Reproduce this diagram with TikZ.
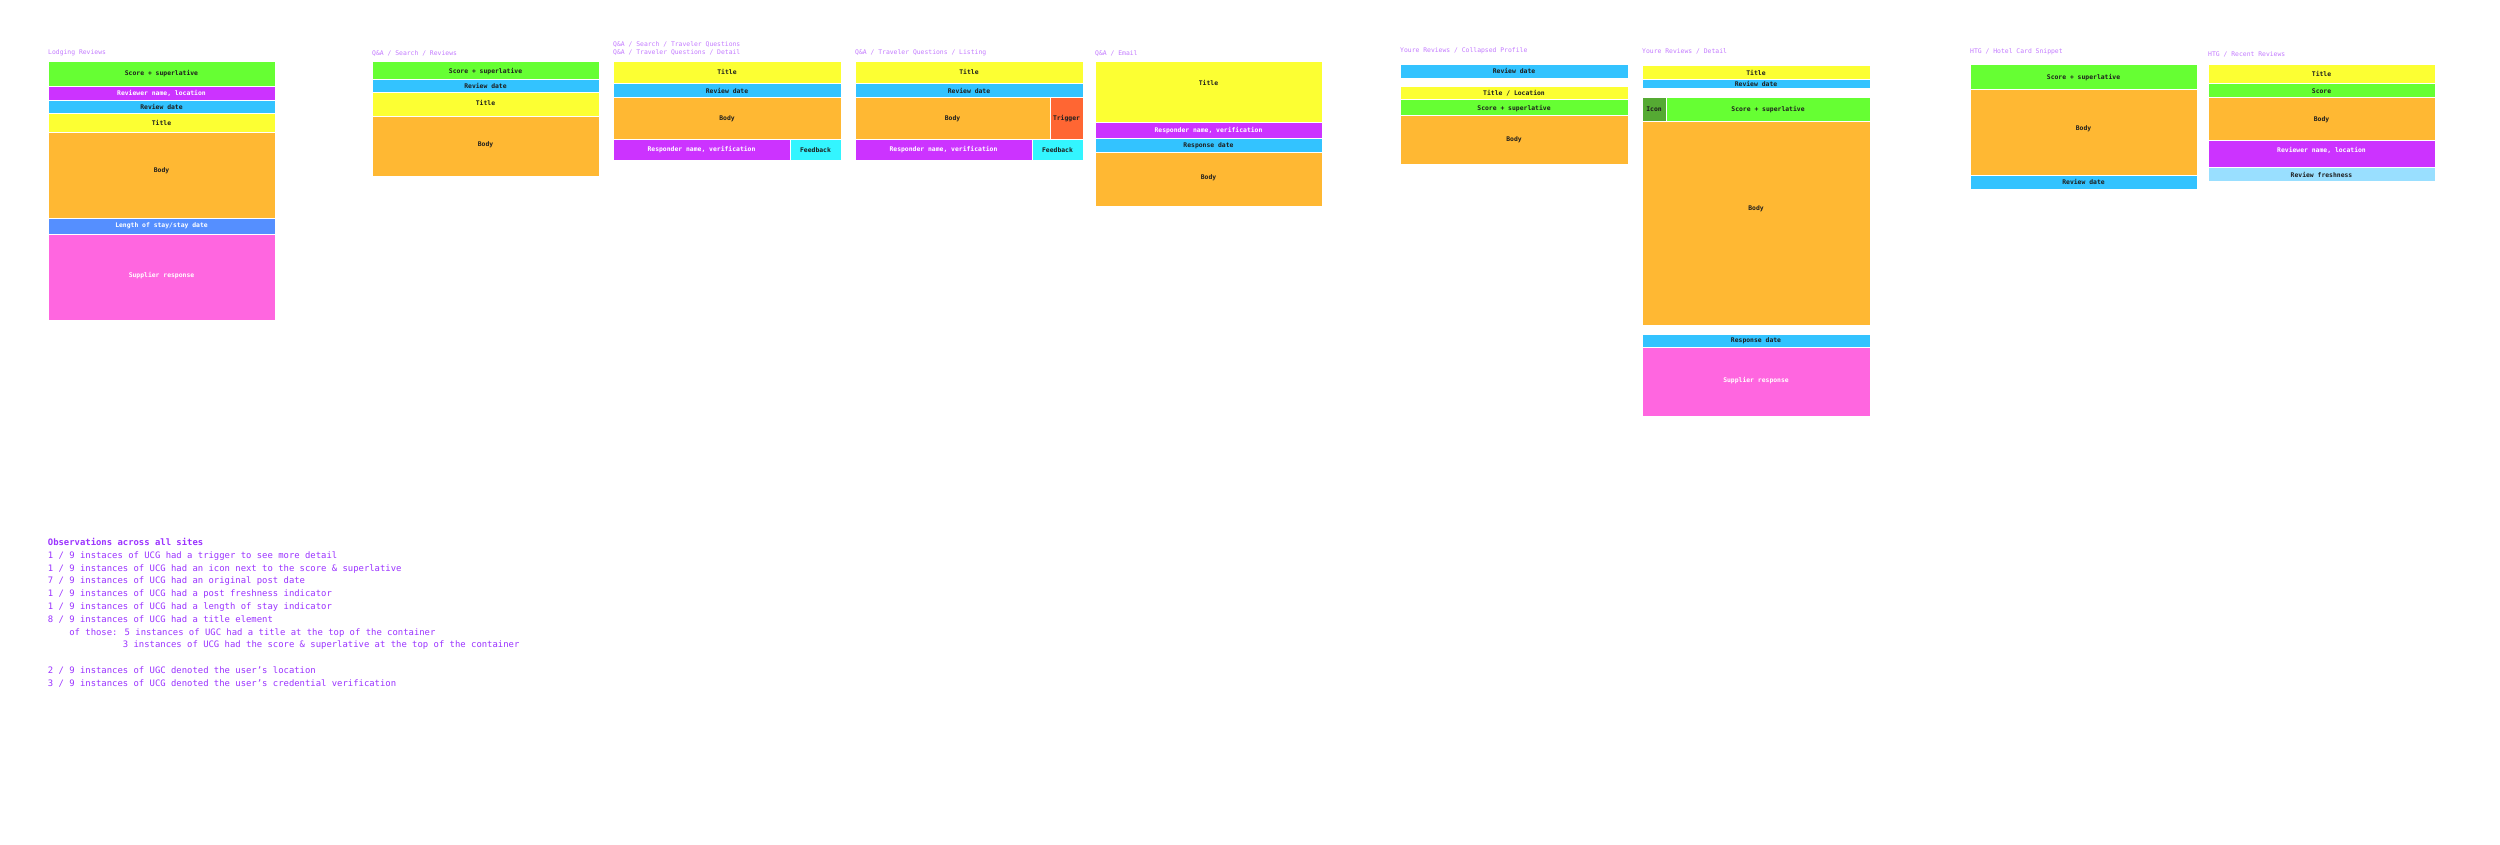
\documentclass[tikz,border=0pt]{standalone}
\usepackage{fontspec}
\setmainfont{DejaVu Sans Mono}
\setmonofont{DejaVu Sans Mono}
\definecolor{scoreG}{HTML}{66FF33}
\definecolor{purpC}{HTML}{CC33FF}
\definecolor{dateB}{HTML}{33C3FF}
\definecolor{titleY}{HTML}{FCFF33}
\definecolor{bodyO}{HTML}{FFB833}
\definecolor{stayB}{HTML}{558FFF}
\definecolor{pinkS}{HTML}{FF66E0}
\definecolor{trigR}{HTML}{FF6633}
\definecolor{feedC}{HTML}{33F5FF}
\definecolor{iconG}{HTML}{55AA33}
\definecolor{freshB}{HTML}{99DFFF}
\definecolor{labelP}{HTML}{C47BFF}
\definecolor{obsP}{HTML}{9B33FF}
\definecolor{darkT}{HTML}{1E1E1E}
\newcommand{\seg}[9]{%
  \path[segfill, fill=#5] (#1,#2) rectangle (#3,#4);
  \node[lbl, text=#8] (#6) at ({(#1+#3)/2},#7) {#9};}
\begin{document}
\begin{tikzpicture}[x=1pt,y=-1pt,
  segfill/.style={draw=white, line width=0.5pt},
  lbl/.style={font=\fontsize{6.4}{7.7}\selectfont\bfseries, inner sep=0pt},
  ttl/.style={font=\fontsize{6.4}{7.7}\selectfont, text=labelP, anchor=west, inner sep=0pt}]
\useasboundingbox[fill=white] (0,0) rectangle (2500,845);

% Lodging Reviews
\node[ttl] (t1) at (48,53) {Lodging Reviews};
\seg{48}{61.7}{275}{86.3}{scoreG}{a1}{74}{darkT}{Score + superlative}
\seg{48}{86.3}{275}{100}{purpC}{a2}{93.3}{white}{Reviewer name, location}
\seg{48}{100}{275}{113.3}{dateB}{a3}{106.7}{darkT}{Review date}
\seg{48}{113.3}{275}{132}{titleY}{a4}{123.3}{darkT}{Title}
\seg{48}{132}{275}{218}{bodyO}{a5}{170.7}{darkT}{Body}
\seg{48}{218}{275}{234.7}{stayB}{a6}{225.3}{white}{Length of stay/stay date}
\seg{48}{234.7}{275}{320.3}{pinkS}{a7}{275.7}{white}{Supplier response}

% Q&A / Search / Reviews
\node[ttl] (t2) at (372,53) {Q\&A / Search / Reviews};
\seg{372}{61.7}{599}{79}{scoreG}{b1}{71.7}{darkT}{Score + superlative}
\seg{372}{79}{599}{92.3}{dateB}{b2}{85.7}{darkT}{Review date}
\seg{372}{92.3}{599}{116.3}{titleY}{b3}{103.3}{darkT}{Title}
\seg{372}{116.3}{599}{176.3}{bodyO}{b4}{145}{darkT}{Body}

% Q&A / Traveler Questions / Detail
\node[ttl] (t3a) at (613,44.7) {Q\&A / Search / Traveler Questions};
\node[ttl] (t3b) at (613,52.7) {Q\&A / Traveler Questions / Detail};
\seg{613}{61.7}{841}{83.7}{titleY}{c1}{72.3}{darkT}{Title}
\seg{613}{83.7}{841}{97.3}{dateB}{c2}{90.7}{darkT}{Review date}
\seg{613}{97.3}{841}{139.3}{bodyO}{c3}{118.7}{darkT}{Body}
\seg{613}{139.3}{790}{160}{purpC}{c4}{149.7}{white}{Responder name, verification}
\seg{790}{139.3}{841}{160}{feedC}{c5}{150.3}{darkT}{Feedback}

% Q&A / Traveler Questions / Listing
\node[ttl] (t4) at (855,53) {Q\&A / Traveler Questions / Listing};
\seg{855}{61.7}{1083}{83.7}{titleY}{d1}{72.3}{darkT}{Title}
\seg{855}{83.7}{1083}{97.3}{dateB}{d2}{90.7}{darkT}{Review date}
\seg{855}{97.3}{1050}{139.3}{bodyO}{d3}{118.7}{darkT}{Body}
\seg{1050}{97.3}{1083}{139.3}{trigR}{d4}{119}{darkT}{Trigger}
\seg{855}{139.3}{1032}{160}{purpC}{d5}{149.7}{white}{Responder name, verification}
\seg{1032}{139.3}{1083}{160}{feedC}{d6}{150.3}{darkT}{Feedback}

% Q&A / Email
\node[ttl] (t5) at (1095,53) {Q\&A / Email};
\seg{1095}{61}{1322}{122.3}{titleY}{e1}{83.3}{darkT}{Title}
\seg{1095}{122.3}{1322}{138.7}{purpC}{e2}{131}{white}{Responder name, verification}
\seg{1095}{138.7}{1322}{152}{dateB}{e3}{145.3}{darkT}{Response date}
\seg{1095}{152}{1322}{206}{bodyO}{e4}{178}{darkT}{Body}

% Youre Reviews / Collapsed Profile
\node[ttl] (t6) at (1400,51) {Youre Reviews / Collapsed Profile};
\seg{1400}{64.7}{1628}{78.3}{dateB}{f1}{71.3}{darkT}{Review date}
\seg{1400}{86.3}{1628}{99.3}{titleY}{f2}{92.7}{darkT}{Title / Location}
\seg{1400}{99.3}{1628}{115.3}{scoreG}{f3}{109}{darkT}{Score + superlative}
\seg{1400}{115.3}{1628}{164}{bodyO}{f4}{139.3}{darkT}{Body}

% Youre Reviews / Detail
\node[ttl] (t7) at (1642,51) {Youre Reviews / Detail};
\seg{1642}{65}{1870}{79}{titleY}{g1}{73}{darkT}{Title}
\seg{1642}{79}{1870}{88.7}{dateB}{g2}{84}{darkT}{Review date}
\seg{1642}{97}{1666}{121.7}{iconG}{g3}{109.3}{darkT}{Icon}
\seg{1666}{97}{1870}{121.7}{scoreG}{g4}{109.3}{darkT}{Score + superlative}
\seg{1642}{121.7}{1870}{325.7}{bodyO}{g5}{208.3}{darkT}{Body}
\seg{1642}{334}{1870}{347.3}{dateB}{g6}{340.7}{darkT}{Response date}
\seg{1642}{347.3}{1870}{416}{pinkS}{g7}{381}{white}{Supplier response}

% HTG / Hotel Card Snippet
\node[ttl] (t8) at (1970,51.7) {HTG / Hotel Card Snippet};
\seg{1970}{64.7}{2197}{89.3}{scoreG}{h1}{77.3}{darkT}{Score + superlative}
\seg{1970}{89.3}{2197}{175.7}{bodyO}{h2}{128.7}{darkT}{Body}
\seg{1970}{175.7}{2197}{189}{dateB}{h3}{182.3}{darkT}{Review date}

% HTG / Recent Reviews
\node[ttl] (t9) at (2208,54.7) {HTG / Recent Reviews};
\seg{2208}{64}{2435}{83}{titleY}{k1}{74}{darkT}{Title}
\seg{2208}{83}{2435}{97.3}{scoreG}{k2}{91}{darkT}{Score}
\seg{2208}{97.3}{2435}{140.7}{bodyO}{k3}{119.3}{darkT}{Body}
\seg{2208}{140.7}{2435}{167.7}{purpC}{k4}{150.3}{white}{Reviewer name, location}
\seg{2208}{167.7}{2435}{181.3}{freshB}{k5}{174.7}{darkT}{Review freshness}

% Observations (anchored at the baseline of the last line)
\node[anchor=base west, align=left, inner sep=0pt, text=obsP,
      font=\fontsize{8.9}{12.8}\selectfont] (obs) at (47.7,686.3) {%
{\bfseries Observations across all sites}\\
1 / 9 instaces of UCG had a trigger to see more detail\\
1 / 9 instances of UCG had an icon next to the score \& superlative\\
7 / 9 instances of UCG had an original post date\\
1 / 9 instances of UCG had a post freshness indicator\\
1 / 9 instances of UCG had a length of stay indicator\\
8 / 9 instances of UCG had a title element\\
\hphantom{0000}of those: 5 instances of UGC had a title at the top of the container\\
\hphantom{00000000000000}3 instances of UCG had the score \& superlative at the top of the container\\[12.8pt]
2 / 9 instances of UGC denoted the user’s location\\
3 / 9 instances of UCG denoted the user’s credential verification};
\end{tikzpicture}
\end{document}
